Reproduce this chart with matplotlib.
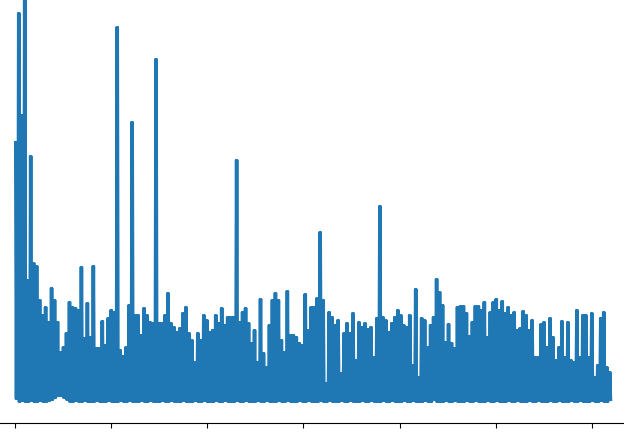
import numpy as np
import matplotlib
matplotlib.use("Agg")
import matplotlib.pyplot as plt

# Upper envelope of the oscillating signal (height above baseline), 200 samples
peaks = [
    260, 389, 287, 420, 122, 246, 139, 136, 102, 87,
    95, 80, 114, 102, 80, 50, 55, 69, 100, 95,
    94, 92, 135, 64, 99, 65, 136, 54, 54, 81,
    57, 84, 92, 90, 375, 52, 46, 55, 97, 280,
    87, 87, 67, 94, 87, 80, 79, 343, 79, 79,
    87, 109, 79, 75, 70, 74, 89, 95, 69, 62,
    40, 69, 62, 87, 82, 70, 72, 87, 79, 94,
    77, 85, 85, 85, 242, 80, 90, 94, 79, 59,
    72, 40, 103, 49, 35, 77, 102, 109, 102, 62,
    50, 111, 67, 67, 65, 59, 57, 108, 72, 95,
    95, 104, 170, 102, 19, 90, 85, 77, 82, 29,
    69, 79, 69, 89, 42, 80, 75, 79, 73, 75,
    45, 84, 196, 85, 82, 70, 79, 85, 92, 87,
    77, 75, 87, 37, 113, 25, 84, 82, 55, 77,
    85, 123, 110, 97, 60, 78, 59, 54, 95, 96,
    96, 89, 66, 80, 96, 96, 92, 100, 65, 90,
    100, 103, 92, 101, 89, 95, 87, 90, 72, 74,
    91, 87, 72, 82, 45, 45, 78, 80, 55, 84,
    65, 42, 55, 81, 45, 80, 42, 40, 92, 45,
    87, 87, 45, 89, 25, 37, 84, 90, 35, 30,
]

# Lower envelope (troughs), same 200 samples
troughs = [
    3, 0, 1, 0, 0, 1, 0, 0, 1, 0,
    0, 1, 2, 4, 6, 6, 4, 2, 0, 0,
    1, 0, 0, 1, 0, 0, 0, 1, 0, 0,
    0, 1, 0, 0, 0, 1, 0, 0, 1, 0,
    0, 0, 1, 0, 0, 1, 0, 0, 0, 1,
    0, 0, 1, 0, 0, 0, 1, 0, 0, 0,
    1, 0, 0, 1, 0, 0, 0, 1, 0, 0,
    1, 0, 0, 0, 1, 0, 0, 1, 0, 0,
    0, 1, 0, 0, 1, 0, 0, 0, 1, 0,
    0, 1, 0, 0, 0, 1, 0, 0, 1, 0,
    0, 0, 1, 0, 0, 1, 0, 0, 0, 1,
    0, 0, 1, 0, 0, 0, 1, 0, 0, 1,
    0, 0, 0, 1, 0, 0, 1, 0, 0, 0,
    1, 0, 0, 1, 0, 0, 0, 1, 0, 0,
    2, 0, 0, 0, 1, 0, 0, 1, 0, 0,
    0, 1, 0, 0, 1, 0, 0, 0, 1, 0,
    0, 1, 0, 0, 0, 1, 0, 0, 1, 0,
    0, 0, 1, 0, 0, 1, 0, 0, 0, 1,
    0, 0, 1, 0, 0, 0, 1, 0, 0, 1,
    0, 0, 0, 1, 0, 0, 1, 0, 0, 2,
]

x_start, x_end = 0, 3100
x_ticks = [0, 500, 1000, 1500, 2000, 2500, 3000]

# each sample is a burst of fast oscillations between its trough and peak
cycles = 2
pairs = np.empty((len(peaks), 2))
pairs[:, 0] = peaks
pairs[:, 1] = troughs
series = np.repeat(pairs, cycles, axis=0).ravel()
x = np.linspace(x_start, x_end, len(series))

fig = plt.figure(figsize=(6.24, 4.36), dpi=100)
W, H = 624.0, 436.0
left_px, right_px = -14.8, 641.0
bottom_px, top_px = 423.0, -39.0
ax = fig.add_axes([left_px / W, (H - bottom_px) / H,
                   (right_px - left_px) / W, (bottom_px - top_px) / H])
ax.plot(x, series, color="#1f77b4", linewidth=1.5)
ax.set_xlim(-155, 3255)
ax.set_ylim(-21, 441)
ax.set_xticks(x_ticks)
ax.tick_params(axis="x", labelbottom=False)
ax.tick_params(axis="y", labelleft=False)
fig.savefig("out.png", dpi=100)
